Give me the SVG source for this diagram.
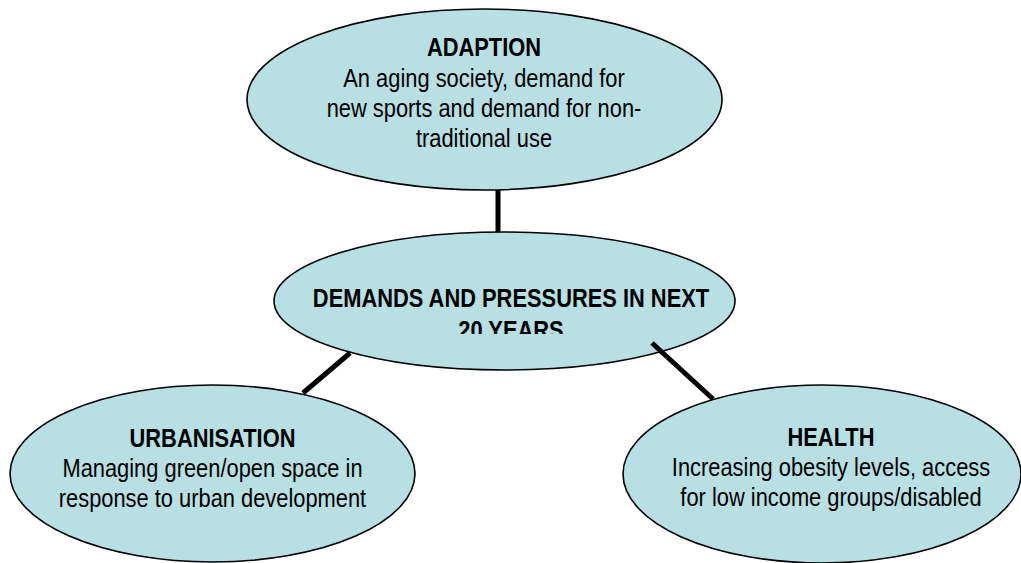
<svg xmlns="http://www.w3.org/2000/svg" width="1021" height="563" viewBox="0 0 1021 563">
<style>
.node{fill:#B8DFE3;stroke:#000;stroke-width:1.6}
.t{font-family:"Liberation Sans",Arial,sans-serif;font-size:25px;fill:#000;text-anchor:middle}
.b{font-weight:bold}
.c{stroke:#000;stroke-width:5;fill:none}
</style>
<defs>
<clipPath id="clipC"><rect x="-400" y="230" width="800" height="104"/></clipPath>
</defs>
<rect width="1021" height="563" fill="#fff"/>
<g id="adaption">
<ellipse class="node" cx="484.5" cy="99.5" rx="237.5" ry="90.5"/>
<g transform="translate(484,0) scale(0.875,1)">
<text class="t b" x="0" y="56">ADAPTION</text>
<text class="t" x="0" y="87">An aging society, demand for</text>
<text class="t" x="0" y="117">new sports and demand for non-</text>
<text class="t" x="0" y="147">traditional use</text>
</g>
</g>
<g id="demands">
<ellipse class="node" cx="504.5" cy="301" rx="230.5" ry="69"/>
<g transform="translate(511,0) scale(0.875,1)">
<g clip-path="url(#clipC)">
<text class="t b" x="0" y="307">DEMANDS AND PRESSURES IN NEXT</text>
<text class="t b" x="0" y="339">20 YEARS</text>
</g>
</g>
</g>
<g id="urbanisation">
<ellipse class="node" cx="212.5" cy="473.5" rx="202.5" ry="88.5"/>
<g transform="translate(212.5,0) scale(0.875,1)">
<text class="t b" x="0" y="447">URBANISATION</text>
<text class="t" x="0" y="477">Managing green/open space in</text>
<text class="t" x="0" y="507">response to urban development</text>
</g>
</g>
<g id="health">
<ellipse class="node" cx="822" cy="474" rx="199" ry="89"/>
<g transform="translate(831,0) scale(0.875,1)">
<text class="t b" x="0" y="446">HEALTH</text>
<text class="t" x="0" y="476">Increasing obesity levels, access</text>
<text class="t" x="0" y="506">for low income groups/disabled</text>
</g>
</g>
<g id="connectors">
<line class="c" x1="498" y1="190" x2="498" y2="232"/>
<line class="c" x1="350" y1="353" x2="303" y2="393"/>
<line class="c" x1="652" y1="343" x2="713" y2="399"/>
</g>
</svg>
